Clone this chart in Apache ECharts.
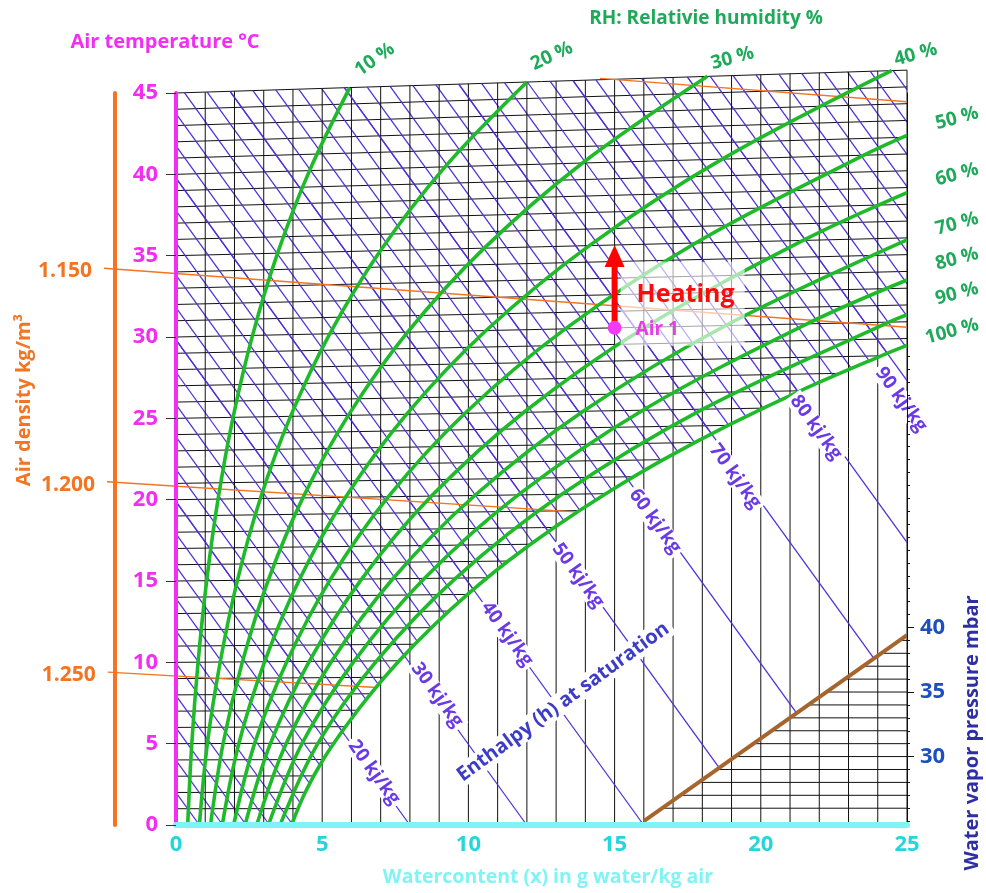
<!DOCTYPE html>
<html>
<head>
<meta charset="utf-8">
<title>h-x chart</title>
<script src="https://cdn.jsdelivr.net/npm/echarts@6.0.0/dist/echarts.min.js"></script>
<style>
html,body{margin:0;padding:0;background:#ffffff;}
#chart{width:986px;height:893px;}
</style>
</head>
<body>
<div id="chart"></div>
<script>
// ===================== DATA =====================
const waterTicks = [0, 5, 10, 15, 20, 25];                       // g water / kg air
const temperatureTicks = [0, 5, 10, 15, 20, 25, 30, 35, 40, 45];  // °C
const pressureLabels = [30, 35, 40];                             // mbar
const pressureMinorTicks = [25,26,27,28,29,30,31,32,33,34,35,36,37,38,39,40,41,42,43,44,45,46,47,48,49,50,51,52,53,54,55,56,57,58,59,60,61];
const pressureGridLevels = [26,27,28,29,30,31,32,33,34,35,36,37,38,39];

const rhNames = ['10 %','20 %','30 %','40 %','50 %','60 %','70 %','80 %','90 %','100 %'];
// relative humidity curves: [water content g/kg, air temperature °C]
const rh10 = [[0.40,0],[0.54,5],[0.755,10],[1.049,15],[1.439,20],[1.952,25],[2.618,30],[3.475,35],[4.567,40],[5.943,45]];
const rh20 = [[0.80,0],[1.073,5],[1.512,10],[2.101,15],[2.885,20],[3.916,25],[5.258,30],[6.989,35],[9.201,40],[12.001,45]];
const rh30 = [[1.18,0],[1.611,5],[2.270,10],[3.157,15],[4.338,20],[5.893,25],[7.920,30],[10.542,35],[13.904,40],[18.177,45]];
const rh40 = [[1.58,0],[2.150,5],[3.031,10],[4.217,15],[5.797,20],[7.882,25],[10.605,30],[14.136,35],[18.678,40],[24.474,45]];
const rh50 = [[1.97,0],[2.690,5],[3.793,10],[5.280,15],[7.264,20],[9.884,25],[13.313,30],[17.771,35],[23.524,40],[25,41.11]];
const rh60 = [[2.36,0],[3.231,5],[4.557,10],[6.347,15],[8.737,20],[11.898,25],[16.045,30],[21.447,35],[25,37.70]];
const rh70 = [[2.76,0],[3.772,5],[5.323,10],[7.417,15],[10.217,20],[13.925,25],[18.800,30],[25,34.88]];
const rh80 = [[3.16,0],[4.315,5],[6.091,10],[8.491,15],[11.704,20],[15.966,25],[21.579,30],[25,32.49]];
const rh90 = [[3.56,0],[4.859,5],[6.860,10],[9.569,15],[13.198,20],[18.019,25],[24.382,30],[25,30.42]];
const rh100 = [[3.95,0],[4.42,2],[5.034,4],[5.795,6],[6.657,8],[7.632,10],[8.732,12],[9.972,14],[11.360,16],[12.934,18],[14.699,20],[16.665,22],[18.880,24],[21.353,26],[24.117,28],[25,28.59]];
const rhCurves = [rh10, rh20, rh30, rh40, rh50, rh60, rh70, rh80, rh90, rh100];

const enthalpyGridStep = 2;                                       // kJ/kg between grid lines
const enthalpyGridMax = 108;
const enthalpyLabelValues = [20, 30, 40, 50, 60, 70, 80, 90];     // kJ/kg
const enthalpyLabelNames = ['20 kj/kg','30 kj/kg','40 kj/kg','50 kj/kg','60 kj/kg','70 kj/kg','80 kj/kg','90 kj/kg'];

// air density lines: [water content, chart ordinate] start/end
const densityNames = ['', '1.150', '1.200', '1.250'];
const density1100 = [[14.5, 45.9], [25, 44.46]];
const density1150 = [[-2.46, 34.23], [25, 30.6]];
const density1200 = [[-2.36, 21.10], [13.65, 19.25]];
const density1250 = [[-2.33, 9.40], [6.87, 8.45]];
const densityLines = [density1100, density1150, density1200, density1250];

// vapour pressure helper line: [water content, mbar]
const brownLine = [[16.0, 25.0], [25, 39.4]];

const air1 = [15, 30];          // g/kg, °C
const heatedTemperature = 35;   // °C

// ===================== CHART MODEL / LAYOUT =====================
const TILT = 0.00125;           // isotherm rise of the Mollier layout
const CP = 1.006, R0 = 2.501;   // kJ/kgK, kJ/g
const X_MAX = 25, T_TOP = 45;
const P_MIN = 24.7, P_MAX = 81.4;
const FONT = '"Open Sans", "Noto Sans", sans-serif';
const MAGENTA = '#f22ef2', CYAN_LINE = '#80f4f4', CYAN_TEXT = '#25d6d9';
const ORANGE = '#f37421', GREEN = '#1fba2a', GREEN_TEXT = '#1fa95a';
const PURPLE = '#4f2ed8', PURPLE_TEXT = '#6a3ae6', GRID = '#111111';
const PRESS_TEXT = '#1e4fc0', PRESS_NAME = '#2e2ea6', BROWN = '#a6652c';
const SMOOTH = 0.35;

const rhLabelOffset = [[25,-28],[25,-26],[25,-18],[24,-16],[50,-17],[50,-18],[50,-16],[50,-21],[50,-21],[45,-14]];
const rhLabelRotate = [35,25,15,15,15,15,15,15,15,15];
const enthLabelX = [6.77, 8.93, 11.32, 13.75, 16.38, 19.12, 21.89, 24.8];
const enthLabelDy = [-3, -6, -2, 3, 4, 10, 11, 27];
const satLabelPos = [13.24, 7.56];

const ordOf = (x, T) => T * (1 + TILT * x);
const toChart = p => [p[0], ordOf(p[0], p[1])];
const hOrd = (h, x) => (h - R0 * x) / CP;
const pOrd = p => (p - P_MIN) / (P_MAX - P_MIN) * T_TOP;

function enthalpySegment(h) {
  let x1, y1;
  if (h / CP <= T_TOP) { x1 = 0; y1 = h / CP; }
  else { x1 = (h - CP * T_TOP) / (R0 + CP * T_TOP * TILT); y1 = ordOf(x1, T_TOP); }
  if (x1 >= X_MAX) return null;
  let x2, y2;
  if (h / R0 <= X_MAX) { x2 = h / R0; y2 = 0; } else { x2 = X_MAX; y2 = hOrd(h, X_MAX); }
  return [x1, y1, x2, y2];
}

// upper grid: isotherms + enthalpy lines
const isoSegs = [];
for (let T = 1; T <= T_TOP; T++) isoSegs.push([0, ordOf(0, T), X_MAX, ordOf(X_MAX, T)]);
const enthGridSegs = [];
for (let h = enthalpyGridStep; h <= enthalpyGridMax; h += enthalpyGridStep) {
  const s = enthalpySegment(h); if (s) enthGridSegs.push(s);
}
// verticals
const verticalSegs = [];
for (let x = 1; x <= X_MAX; x++) verticalSegs.push([x, 0, x, ordOf(x, T_TOP)]);
// labelled enthalpy lines, cut at the vapour pressure line
const bx0 = brownLine[0][0], by0 = pOrd(brownLine[0][1]);
const bx1 = brownLine[1][0], by1 = pOrd(brownLine[1][1]);
const bm = (by1 - by0) / (bx1 - bx0);
const lowerEnthSegs = enthalpyLabelValues.map(h => {
  const s = enthalpySegment(h);
  const xi = (h / CP - by0 + bm * bx0) / (bm + R0 / CP);
  if (xi >= bx0 && xi <= bx1 && xi < s[2]) return [s[0], s[1], xi, hOrd(h, xi)];
  return s;
});
// vapour pressure grid (on pressure axis)
const pressSegs = pressureGridLevels.map(p => {
  const xb = bx0 + (p - brownLine[0][1]) / (brownLine[1][1] - brownLine[0][1]) * (bx1 - bx0);
  return [xb, p, X_MAX, p];
});

function segSeries(name, segs, color, width, z, yAxisIndex) {
  return {
    type: 'custom', name: name, z: z, silent: true, animation: false,
    coordinateSystem: 'cartesian2d', xAxisIndex: 0, yAxisIndex: yAxisIndex || 0,
    data: [[0, 0]],
    renderItem: function (params, api) {
      return {
        type: 'group',
        children: segs.map(s => {
          const a = api.coord([s[0], s[1]]), b = api.coord([s[2], s[3]]);
          return { type: 'line', shape: { x1: a[0], y1: a[1], x2: b[0], y2: b[1] },
                   style: { stroke: color, lineWidth: width } };
        })
      };
    }
  };
}

function txt(x, y, text, size, color, rotDeg, extra) {
  return {
    type: 'text', x: x, y: y, rotation: (rotDeg || 0) * Math.PI / 180,
    style: Object.assign({ text: text, fontFamily: FONT, fontWeight: 'bold', fontSize: size,
      fill: color, align: 'center', verticalAlign: 'middle' }, extra || {})
  };
}

const series = [];
// layer 1: upper grid
series.push(segSeries('isotherms', isoSegs, GRID, 1, 1));
series.push(segSeries('enthalpyGrid', enthGridSegs, PURPLE, 1.25, 1));
// layer 2: white mask under saturation line
series.push({
  type: 'line', name: 'mask', z: 2, data: rh100.map(toChart), smooth: SMOOTH, symbol: 'none',
  lineStyle: { width: 0, opacity: 0 }, areaStyle: { color: '#ffffff', opacity: 1 },
  clip: false, silent: true, animation: false
});
// layer 3: verticals, labelled enthalpy lines, vapour pressure grid
series.push(segSeries('verticals', verticalSegs, GRID, 1, 3));
series.push(segSeries('enthalpyLower', lowerEnthSegs, PURPLE, 1.25, 3));
series.push(segSeries('pressureGrid', pressSegs, GRID, 1, 3, 1));
series.push({
  type: 'line', name: 'vapourPressure', z: 4, yAxisIndex: 1, data: brownLine, symbol: 'none',
  lineStyle: { color: BROWN, width: 4 }, clip: false, silent: true, animation: false
});
// density lines + labels
series.push({
  type: 'custom', name: 'density', z: 4, silent: true, animation: false,
  coordinateSystem: 'cartesian2d', data: [[0, 0]],
  renderItem: function (params, api) {
    const ch = [];
    densityLines.forEach((d, i) => {
      const a = api.coord(d[0]), b = api.coord(d[1]);
      ch.push({ type: 'line', shape: { x1: a[0], y1: a[1], x2: b[0], y2: b[1] },
                style: { stroke: ORANGE, lineWidth: 1.4 } });
      if (densityNames[i]) ch.push(txt(a[0] - 12, a[1] + 3, densityNames[i], 21, ORANGE, 0, { align: 'right' }));
    });
    return { type: 'group', children: ch };
  }
});
// relative humidity curves
rhCurves.forEach((c, i) => {
  series.push({
    type: 'line', name: rhNames[i], z: 5, data: c.map(toChart), smooth: SMOOTH, symbol: 'none',
    lineStyle: { color: GREEN, width: 3.6 }, clip: false, silent: true, animation: false
  });
});
// labels
series.push({
  type: 'custom', name: 'labels', z: 6, silent: true, animation: false,
  coordinateSystem: 'cartesian2d', data: [[0, 0]],
  renderItem: function (params, api) {
    const ch = [];
    rhCurves.forEach((c, i) => {
      const e = api.coord(toChart(c[c.length - 1]));
      ch.push(txt(e[0] + rhLabelOffset[i][0], e[1] + rhLabelOffset[i][1], rhNames[i], 19, GREEN_TEXT, rhLabelRotate[i]));
    });
    enthalpyLabelValues.forEach((h, i) => {
      const x = enthLabelX[i];
      const a = api.coord([x, hOrd(h, x)]), b = api.coord([x + 1, hOrd(h, x + 1)]);
      const ang = Math.atan2(b[1] - a[1], b[0] - a[0]) * 180 / Math.PI;
      ch.push(txt(a[0], a[1] + enthLabelDy[i], enthalpyLabelNames[i], 19, PURPLE_TEXT, -ang,
        { backgroundColor: '#ffffff', padding: [0, 3] }));
    });
    const s = api.coord(satLabelPos);
    ch.push(txt(s[0], s[1], 'Enthalpy (h) at saturation', 20, '#3c3cc6', 36,
      { backgroundColor: '#ffffff', padding: [1, 4] }));
    return { type: 'group', children: ch };
  }
});
// heating process
series.push({
  type: 'custom', name: 'heating', z: 7, silent: true, animation: false,
  coordinateSystem: 'cartesian2d', data: [[0, 0]],
  renderItem: function (params, api) {
    const P = api.coord(toChart(air1));
    const Q = api.coord(toChart([air1[0], heatedTemperature]));
    return {
      type: 'group', children: [
        { type: 'rect', shape: { x: P[0] + 6, y: P[1] - 66, width: 124, height: 84 },
          style: { fill: 'rgba(255,255,255,0.62)' } },
        { type: 'line', shape: { x1: P[0], y1: P[1], x2: Q[0], y2: Q[1] + 20 },
          style: { stroke: '#ff0000', lineWidth: 6 } },
        { type: 'polygon', shape: { points: [[Q[0] - 10, Q[1] + 22], [Q[0] + 10, Q[1] + 22], [Q[0], Q[1]]] },
          style: { fill: '#ff0000' } },
        { type: 'circle', shape: { cx: P[0], cy: P[1], r: 7 }, style: { fill: '#f23cf2' } },
        txt(P[0] + 22, P[1] - 33, 'Heating', 25, '#ff0a0a', 0, { align: 'left' }),
        txt(P[0] + 21, P[1] + 2, 'Air 1', 19, '#e83ce8', 0, { align: 'left' })
      ]
    };
  }
});

const option = {
  animation: false,
  backgroundColor: '#ffffff',
  textStyle: { fontFamily: FONT },
  grid: { left: 176, right: 79, top: 93, bottom: 68, containLabel: false, outerBoundsMode: 'none' },
  xAxis: {
    type: 'value', min: waterTicks[0], max: waterTicks[waterTicks.length - 1], interval: 5, z: 10,
    axisLine: { show: true, lineStyle: { color: CYAN_LINE, width: 6 } },
    axisTick: { show: false }, splitLine: { show: false },
    axisLabel: { color: CYAN_TEXT, fontSize: 22, fontWeight: 'bold', fontFamily: FONT, margin: 9,
      customValues: waterTicks }
  },
  yAxis: [
    {
      type: 'value', min: temperatureTicks[0], max: temperatureTicks[temperatureTicks.length - 1], interval: 5,
      position: 'left', z: 10,
      axisLine: { show: true, lineStyle: { color: MAGENTA, width: 4 } },
      axisTick: { show: true, length: 10, lineStyle: { color: '#333333', width: 1 } },
      splitLine: { show: false },
      axisLabel: { color: MAGENTA, fontSize: 22, fontWeight: 'bold', fontFamily: FONT, margin: 18 }
    },
    {
      type: 'value', min: P_MIN, max: P_MAX, position: 'right', z: 10,
      axisLine: { show: true, lineStyle: { color: GRID, width: 1 } },
      axisTick: { show: true, length: 3, lineStyle: { color: GRID }, customValues: pressureMinorTicks },
      splitLine: { show: false },
      axisLabel: { color: PRESS_TEXT, fontSize: 22, fontWeight: 'bold', fontFamily: FONT, margin: 13,
        customValues: pressureLabels }
    },
    {
      type: 'value', min: P_MIN, max: P_MAX, position: 'right', z: 10,
      axisLine: { show: false },
      axisTick: { show: true, length: 7, lineStyle: { color: GRID }, customValues: pressureLabels },
      splitLine: { show: false }, axisLabel: { show: false }
    },
    {
      type: 'value', min: 0, max: 45, position: 'left', offset: 61, z: 10,
      axisLine: { show: true, lineStyle: { color: ORANGE, width: 4 } },
      axisTick: { show: false }, splitLine: { show: false }, axisLabel: { show: false }
    }
  ],
  graphic: [
    { type: 'text', x: 165, y: 42, style: { text: 'Air temperature °C', fontFamily: FONT, fontWeight: 'bold',
      fontSize: 20, fill: MAGENTA, align: 'center', verticalAlign: 'middle' } },
    { type: 'text', x: 706, y: 19, style: { text: 'RH: Relativie humidity %', fontFamily: FONT, fontWeight: 'bold',
      fontSize: 19, fill: GREEN_TEXT, align: 'center', verticalAlign: 'middle' } },
    { type: 'text', x: 24, y: 400, rotation: Math.PI / 2, style: { text: 'Air density kg/m³', fontFamily: FONT,
      fontWeight: 'bold', fontSize: 20, fill: ORANGE, align: 'center', verticalAlign: 'middle' } },
    { type: 'text', x: 972, y: 733, rotation: Math.PI / 2, style: { text: 'Water vapor pressure mbar', fontFamily: FONT,
      fontWeight: 'bold', fontSize: 20, fill: PRESS_NAME, align: 'center', verticalAlign: 'middle' } },
    { type: 'text', x: 548, y: 877, style: { text: 'Watercontent (x) in g water/kg air', fontFamily: FONT,
      fontWeight: 'bold', fontSize: 19.5, fill: CYAN_LINE, align: 'center', verticalAlign: 'middle' } }
  ],
  series: series
};

const chart = echarts.init(document.getElementById('chart'), null, { renderer: 'canvas', width: 986, height: 893 });
chart.setOption(option);
</script>
</body>
</html>
